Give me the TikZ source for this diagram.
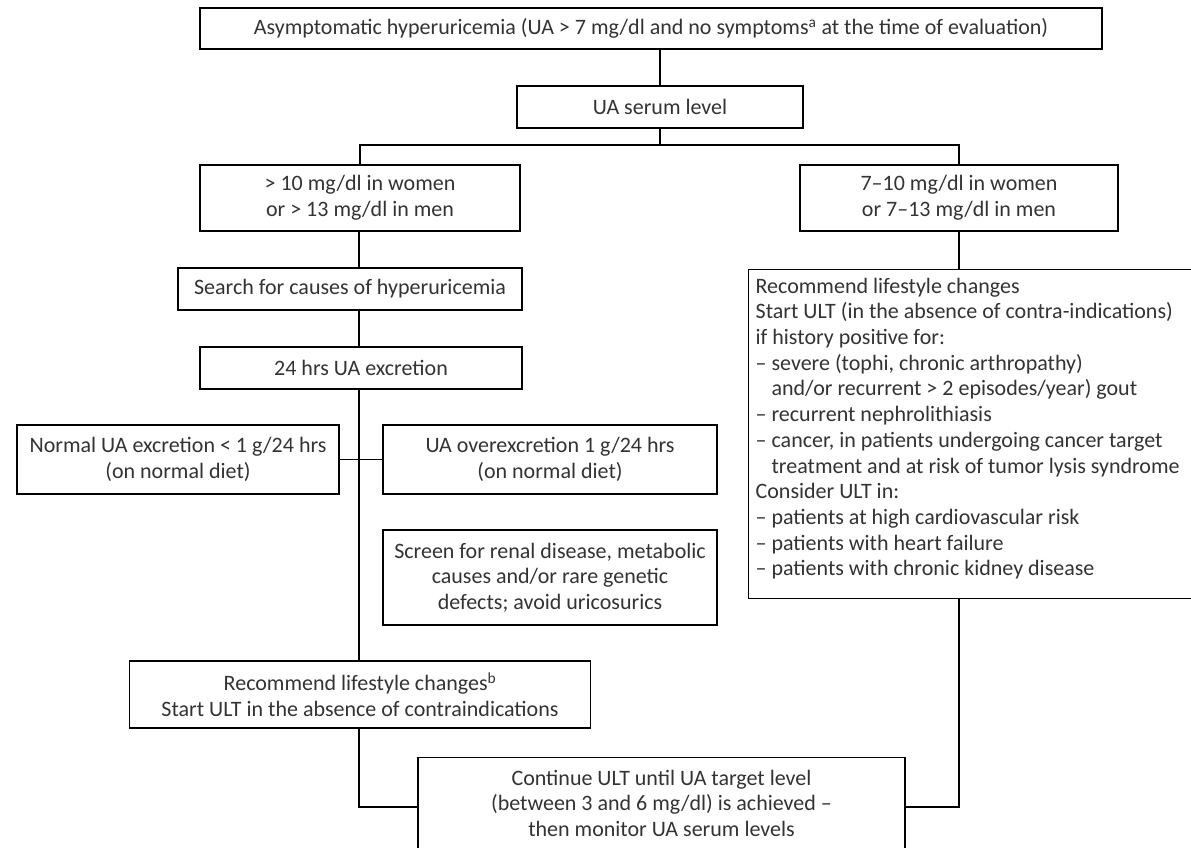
\documentclass[tikz,border=0pt]{standalone}
\usepackage{fontspec}
\setmainfont{Carlito}
\usetikzlibrary{positioning}
\begin{document}
\begin{tikzpicture}[x=1pt,y=-1pt,
  font=\fontsize{22}{25.7}\selectfont,
  box/.style={draw=black,line width=1.3pt,inner sep=0pt,align=center,text=black!80},
  conn/.style={draw=black,line width=1.3pt}]
\useasboundingbox[fill=white] (0,0) rectangle (1191,848);
\node[box,minimum width=902pt,minimum height=41pt] (top) at (651,28.5)
  {Asymptomatic hyperuricemia (UA > 7 mg/dl and no symptoms\textsuperscript{a} at the time of evaluation)};
\node[box,minimum width=286pt,minimum height=42pt] (serum) at (660,107) {UA serum level};
\node[box,minimum width=320pt,minimum height=66pt] (left1) at (360,198) {> 10 mg/dl in women\\or > 13 mg/dl in men};
\node[box,minimum width=318pt,minimum height=66pt] (right1) at (959,198) {7–10 mg/dl in women\\or 7–13 mg/dl in men};
\node[box,minimum width=344pt,minimum height=42pt] (search) at (350,289) {Search for causes of hyperuricemia};
\node[box,minimum width=322pt,minimum height=42pt] (excr) at (361,368) {24 hrs UA excretion};
\node[box,minimum width=322pt,minimum height=69pt] (normal) at (178,459.5) {Normal UA excretion < 1 g/24 hrs\\(on normal diet)};
\node[box,minimum width=334pt,minimum height=69pt] (over) at (550,459.5) {UA overexcretion 1 g/24 hrs\\(on normal diet)};
\node[box,minimum width=334pt,minimum height=95pt] (screen) at (550,577.5) {Screen for renal disease, metabolic\\causes and/or rare genetic\\defects; avoid uricosurics};
\node[box,minimum width=461pt,minimum height=67pt] (rec) at (360,694.5) {Recommend lifestyle changes\textsuperscript{b}\\Start ULT in the absence of contraindications};
\node[box,minimum width=487pt,anchor=north,inner ysep=13pt,text height=66pt,text depth=20pt] (cont) at (661.5,757)
  {Continue ULT until UA target level\\(between 3 and 6 mg/dl) is achieved –\\then monitor UA serum levels};
\node[box,minimum width=447pt,anchor=north west,align=flush left,inner xsep=7pt,inner ysep=8pt,text width=433pt,text height=16pt,text depth=297pt] (big) at (748,268.5)
  {Recommend lifestyle changes\\
   Start ULT (in the absence of contra-indications)\\
   if history positive for:\\
   – severe (tophi, chronic arthropathy)\\
   \phantom{– }and/or recurrent > 2 episodes/year) gout\\
   – recurrent nephrolithiasis\\
   – cancer, in patients undergoing cancer target\\
   \phantom{– }treatment and at risk of tumor lysis syndrome\\
   Consider ULT in:\\
   – patients at high cardiovascular risk\\
   – patients with heart failure\\
   – patients with chronic kidney disease};
\coordinate (j1) at (660,145);
\coordinate (tx) at (359,0);
\draw[conn] (serum.north) -- (serum.north |- top.south);
\draw[conn] (serum.south) -- (j1);
\draw[conn] (left1.north) -- (left1.north |- j1) -- (right1.north |- j1) -- (right1.north);
\draw[conn] (left1.south -| tx) -- (search.north -| tx);
\draw[conn] (search.south -| tx) -- (excr.north -| tx);
\draw[conn] (excr.south -| tx) -- (rec.north -| tx);
\draw[conn] (normal.east) -- (over.west);
\draw[conn] (rec.south -| tx) -- (tx |- 0,807) -- (cont.west |- 0,807);
\draw[conn] (right1.south) -- (right1.south |- big.north);
\draw[conn] (right1.south |- big.south) -- (right1.south |- 0,807) -- (cont.east |- 0,807);
\end{tikzpicture}
\end{document}
